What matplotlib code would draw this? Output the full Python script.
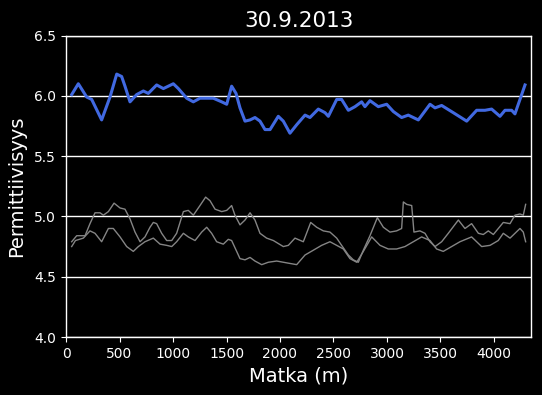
import matplotlib
matplotlib.use("Agg")
import matplotlib.pyplot as plt

title = "30.9.2013"
xlabel = "Matka (m)"
ylabel = "Permittiivisyys"

blue_x = [53, 115, 193, 240, 333, 411, 474, 520, 551, 598, 660, 723, 769, 847, 910,
          1003, 1050, 1128, 1190, 1252, 1283, 1377, 1455, 1502, 1548, 1589, 1626, 1673, 1720,
          1766, 1813, 1860, 1907, 1984, 2031, 2093, 2156, 2234, 2280, 2358, 2421, 2452, 2530, 2576,
          2639, 2701, 2763, 2794, 2841, 2919, 2997, 3059, 3137, 3199, 3293, 3402, 3449,
          3511, 3620, 3745, 3838, 3916, 3978, 4056, 4103, 4165, 4196, 4243, 4290]
blue_y = [6.01, 6.10, 5.99, 5.97, 5.80, 5.99, 6.18, 6.16, 6.08, 5.95, 6.01, 6.04, 6.02, 6.09, 6.06,
          6.10, 6.06, 5.98, 5.95, 5.98, 5.98, 5.98, 5.95, 5.93, 6.08, 6.02, 5.90, 5.79, 5.80,
          5.82, 5.79, 5.72, 5.72, 5.83, 5.79, 5.69, 5.76, 5.84, 5.82, 5.89, 5.86, 5.83, 5.97, 5.97,
          5.88, 5.91, 5.95, 5.91, 5.96, 5.91, 5.93, 5.87, 5.82, 5.84, 5.80, 5.93, 5.90,
          5.92, 5.86, 5.79, 5.88, 5.88, 5.89, 5.83, 5.88, 5.88, 5.85, 5.97, 6.09]

grayA_x = [53, 100, 178, 224, 271, 318, 349, 396, 449, 505, 551, 598, 645, 692, 738,
           785, 816, 847, 894, 941, 988, 1034, 1097, 1143, 1190, 1252, 1305, 1346, 1393,
           1455, 1502, 1548, 1579, 1626, 1673, 1720, 1766, 1813, 1875, 1938, 2031, 2078,
           2140, 2218, 2287, 2343, 2405, 2467, 2530, 2576, 2639, 2685, 2732, 2779,
           2841, 2910, 2966, 3028, 3090, 3137, 3153, 3184, 3231, 3252, 3308, 3355,
           3402, 3449, 3511, 3573, 3667, 3729, 3791, 3854, 3900, 3947, 3994, 4087,
           4150, 4196, 4243, 4274, 4296]
grayA_y = [4.79, 4.84, 4.84, 4.94, 5.03, 5.03, 5.01, 5.04, 5.11, 5.07, 5.06, 4.98, 4.87, 4.79, 4.83,
           4.91, 4.95, 4.94, 4.86, 4.80, 4.80, 4.86, 5.04, 5.05, 5.01, 5.09, 5.16, 5.13, 5.06,
           5.04, 5.05, 5.09, 5.01, 4.93, 4.97, 5.03, 4.97, 4.86, 4.82, 4.80, 4.75, 4.76,
           4.82, 4.79, 4.95, 4.91, 4.88, 4.87, 4.82, 4.76, 4.68, 4.64, 4.62, 4.72,
           4.84, 4.99, 4.91, 4.87, 4.88, 4.90, 5.12, 5.10, 5.09, 4.87, 4.88, 4.86,
           4.79, 4.75, 4.79, 4.86, 4.97, 4.90, 4.94, 4.86, 4.85, 4.88, 4.85, 4.95,
           4.94, 5.01, 5.02, 5.01, 5.10]

grayB_x = [53, 88, 162, 224, 271, 333, 396, 442, 505, 567, 629, 676, 738, 816, 879,
           941, 988, 1034, 1097, 1143, 1206, 1268, 1315, 1361, 1408, 1470, 1517, 1548,
           1595, 1626, 1673, 1720, 1766, 1829, 1891, 1969, 2031, 2093, 2156, 2234, 2312,
           2389, 2467, 2530, 2592, 2654, 2717, 2779, 2857, 2935, 3012, 3090, 3168, 3246,
           3324, 3402, 3464, 3526, 3604, 3682, 3791, 3885, 3963, 4040, 4087, 4150,
           4243, 4274, 4296]
grayB_y = [4.75, 4.80, 4.82, 4.88, 4.86, 4.79, 4.90, 4.90, 4.83, 4.75, 4.71, 4.75, 4.79, 4.82, 4.77,
           4.76, 4.75, 4.79, 4.86, 4.83, 4.80, 4.87, 4.91, 4.86, 4.79, 4.77, 4.81, 4.80,
           4.71, 4.65, 4.64, 4.66, 4.63, 4.60, 4.62, 4.63, 4.62, 4.61, 4.60, 4.68, 4.72,
           4.76, 4.79, 4.76, 4.73, 4.65, 4.62, 4.71, 4.83, 4.76, 4.73, 4.73, 4.75, 4.79,
           4.83, 4.80, 4.73, 4.71, 4.75, 4.79, 4.83, 4.75, 4.76, 4.80, 4.86, 4.82,
           4.90, 4.87, 4.79]

yticks = [4.0, 4.5, 5.0, 5.5, 6.0, 6.5]
xticks = [0, 500, 1000, 1500, 2000, 2500, 3000, 3500, 4000]

fig = plt.figure(figsize=(5.42, 3.95), dpi=100, facecolor="black")
ax = fig.add_axes([0.1218, 0.1468, 0.8579, 0.7633], facecolor="black")

ax.plot(grayB_x, grayB_y, color="#858585", lw=1.0)
ax.plot(grayA_x, grayA_y, color="#858585", lw=1.0)
ax.plot(blue_x, blue_y, color="#4169E1", lw=2.2)

ax.set_xlim(0, 4346)
ax.set_ylim(4.0, 6.5)
ax.set_yticks(yticks)
ax.set_xticks(xticks)
ax.yaxis.grid(True, color="white", lw=1.0)
ax.set_axisbelow(True)

for s in ax.spines.values():
    s.set_color("white")
    s.set_linewidth(1.0)
ax.tick_params(colors="white", labelsize=10, length=3.5, width=0.8)

ax.set_title(title, color="white", fontsize=15.5)
ax.set_xlabel(xlabel, color="white", fontsize=14, labelpad=4)
ax.set_ylabel(ylabel, color="white", fontsize=14, labelpad=6)

fig.savefig("out.png", dpi=100, facecolor="black")
